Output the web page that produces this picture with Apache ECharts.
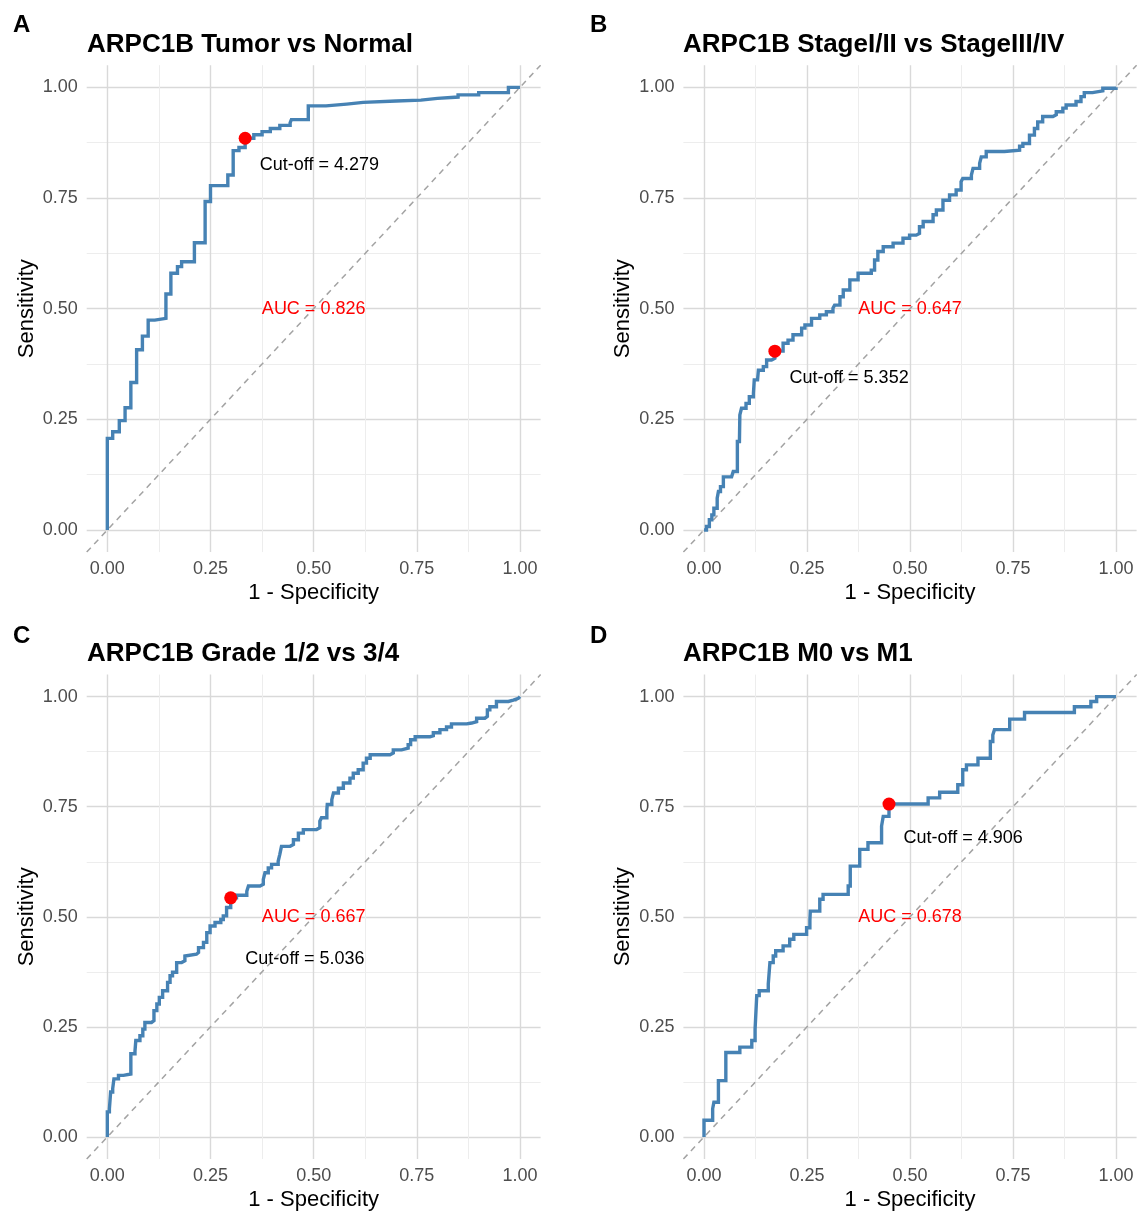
<!DOCTYPE html>
<html>
<head>
<meta charset="utf-8">
<script src="https://cdn.jsdelivr.net/npm/echarts@6/dist/echarts.min.js"></script>
<style>
html,body{margin:0;padding:0;background:#fff;}
#chart{width:1141px;height:1212px;}
</style>
</head>
<body>
<div id="chart"></div>
<script>
// ---------- data ----------
const majorTicks = [0, 0.25, 0.5, 0.75, 1];
const minorTicks = [0.125, 0.375, 0.625, 0.875];
const panelLetters = ['A', 'B', 'C', 'D'];
const panelTitles = ['ARPC1B Tumor vs Normal', 'ARPC1B StageI/II vs StageIII/IV', 'ARPC1B Grade 1/2 vs 3/4', 'ARPC1B M0 vs M1'];

const rocA_fpr = [0,0,0.013,0.029,0.043,0.057,0.071,0.085,0.099,0.115,0.142,0.154,0.170,0.180,0.211,0.237,0.250,0.292,0.305,0.319,0.334,0.355,0.375,0.395,0.418,0.443,0.446,0.487,0.530,0.580,0.620,0.700,0.760,0.800,0.850,0.900,0.972,0.972,1];
const rocA_tpr = [0,0.207,0.222,0.247,0.276,0.333,0.407,0.438,0.474,0.478,0.533,0.580,0.595,0.606,0.649,0.742,0.778,0.802,0.857,0.864,0.885,0.893,0.900,0.907,0.914,0.920,0.927,0.958,0.962,0.966,0.969,0.971,0.975,0.978,0.983,0.988,0.991,1,1];

const rocB_fpr = [0,0.006,0.013,0.019,0.024,0.032,0.035,0.040,0.047,0.067,0.071,0.081,0.081,0.086,0.087,0.091,0.102,0.110,0.120,0.122,0.130,0.132,0.144,0.152,0.164,0.172,0.192,0.204,0.216,0.237,0.245,0.261,0.281,0.297,0.313,0.317,0.330,0.338,0.354,0.374,0.406,0.414,0.422,0.435,0.459,0.483,0.499,0.515,0.523,0.532,0.556,0.564,0.580,0.596,0.612,0.624,0.628,0.649,0.653,0.669,0.673,0.685,0.729,0.766,0.774,0.790,0.802,0.810,0.822,0.847,0.855,0.871,0.879,0.903,0.915,0.923,0.943,0.968,1];
const rocB_tpr = [0,0.008,0.023,0.034,0.049,0.072,0.087,0.098,0.120,0.120,0.132,0.136,0.200,0.203,0.260,0.275,0.286,0.301,0.309,0.339,0.343,0.361,0.369,0.384,0.388,0.404,0.422,0.429,0.441,0.456,0.463,0.478,0.486,0.493,0.501,0.508,0.527,0.542,0.565,0.580,0.587,0.610,0.629,0.640,0.648,0.659,0.666,0.670,0.685,0.697,0.712,0.723,0.745,0.757,0.768,0.787,0.794,0.802,0.817,0.828,0.843,0.855,0.858,0.867,0.873,0.892,0.907,0.922,0.934,0.938,0.945,0.953,0.960,0.968,0.979,0.988,0.992,0.998,1];

const rocC_fpr = [0,0,0.005,0.008,0.013,0.016,0.027,0.039,0.057,0.067,0.069,0.079,0.086,0.091,0.107,0.113,0.120,0.126,0.134,0.146,0.152,0.158,0.168,0.180,0.188,0.192,0.216,0.221,0.233,0.241,0.249,0.261,0.275,0.281,0.289,0.299,0.313,0.338,0.342,0.370,0.378,0.382,0.390,0.398,0.414,0.418,0.422,0.443,0.451,0.463,0.475,0.507,0.515,0.519,0.532,0.533,0.544,0.548,0.560,0.572,0.588,0.596,0.608,0.620,0.628,0.637,0.685,0.693,0.713,0.729,0.735,0.746,0.782,0.790,0.806,0.822,0.834,0.871,0.883,0.895,0.915,0.921,0.927,0.943,0.972,0.984,0.996,1];
const rocC_tpr = [0,0.057,0.064,0.102,0.110,0.132,0.140,0.143,0.189,0.195,0.219,0.230,0.245,0.260,0.264,0.287,0.302,0.317,0.332,0.351,0.366,0.374,0.396,0.400,0.411,0.415,0.419,0.430,0.442,0.464,0.479,0.487,0.494,0.502,0.521,0.543,0.549,0.558,0.570,0.574,0.585,0.600,0.611,0.619,0.626,0.642,0.660,0.664,0.675,0.690,0.698,0.702,0.717,0.725,0.743,0.755,0.766,0.781,0.792,0.804,0.815,0.826,0.834,0.849,0.860,0.868,0.872,0.879,0.883,0.891,0.902,0.909,0.911,0.918,0.925,0.931,0.938,0.940,0.943,0.951,0.955,0.970,0.977,0.989,0.992,0.996,1,1];

const rocD_fpr = [0,0,0.021,0.024,0.035,0.053,0.087,0.116,0.124,0.128,0.134,0.156,0.160,0.168,0.174,0.192,0.208,0.218,0.249,0.257,0.258,0.281,0.289,0.350,0.355,0.378,0.398,0.431,0.435,0.449,0.544,0.572,0.616,0.628,0.637,0.665,0.695,0.701,0.705,0.742,0.778,0.899,0.939,0.953,1];
const rocD_tpr = [0,0.038,0.064,0.079,0.128,0.192,0.204,0.219,0.245,0.321,0.332,0.347,0.396,0.411,0.423,0.434,0.449,0.460,0.475,0.491,0.513,0.540,0.551,0.570,0.615,0.653,0.668,0.706,0.728,0.756,0.770,0.783,0.800,0.834,0.845,0.860,0.898,0.913,0.925,0.949,0.964,0.977,0.989,1,1];

const cutoffFpr = [0.334, 0.172, 0.299, 0.449];
const cutoffTpr = [0.885, 0.404, 0.543, 0.756];
const cutoffLabels = ['Cut-off = 4.279', 'Cut-off = 5.352', 'Cut-off = 5.036', 'Cut-off = 4.906'];
const cutoffLabelX = [0.514, 0.352, 0.479, 0.629];
const cutoffLabelY = [0.824, 0.343, 0.404, 0.680];
const aucLabels = ['AUC = 0.826', 'AUC = 0.647', 'AUC = 0.667', 'AUC = 0.678'];
const aucLabelX = [0.5, 0.5, 0.5, 0.5];
const aucLabelY = [0.5, 0.5, 0.5, 0.5];

const rocFpr = [rocA_fpr, rocB_fpr, rocC_fpr, rocD_fpr];
const rocTpr = [rocA_tpr, rocB_tpr, rocC_tpr, rocD_tpr];

// ---------- layout ----------
const FONT = 'Liberation Sans, Arial, Helvetica, sans-serif';
const panels = [
  {left: 86.7, top: 65.2, width: 453.9, height: 486.9, lx: 13, ly: 13, tx: 87, ty: 32},
  {left: 683.4, top: 65.2, width: 453.2, height: 486.9, lx: 590, ly: 13, tx: 683, ty: 32},
  {left: 86.7, top: 674.6, width: 453.9, height: 485.8, lx: 13, ly: 624, tx: 87, ty: 641},
  {left: 683.4, top: 674.6, width: 453.2, height: 485.8, lx: 590, ly: 624, tx: 683, ty: 641}
];

const grids = [], xAxes = [], yAxes = [], series = [], titles = [];

panels.forEach((p, i) => {
  grids.push({left: p.left, top: p.top, width: p.width, height: p.height, containLabel: false});
  titles.push({text: panelLetters[i], left: p.lx, top: p.ly, padding: 0,
    textStyle: {fontFamily: FONT, fontSize: 24, fontWeight: 'bold', color: '#000'}});
  titles.push({text: panelTitles[i], left: p.tx, top: p.ty, padding: 0,
    textStyle: {fontFamily: FONT, fontSize: 26, fontWeight: 'bold', color: '#000'}});

  const common = {type: 'value', min: -0.05, max: 1.05, gridIndex: i, axisLine: {show: false}};
  // major x
  xAxes.push(Object.assign({}, common, {
    position: 'bottom',
    name: '1 - Specificity', nameLocation: 'middle', nameGap: 30,
    nameTextStyle: {fontFamily: FONT, fontSize: 22, color: '#000'},
    axisTick: {show: false, customValues: majorTicks},
    axisLabel: {customValues: majorTicks, formatter: v => v.toFixed(2), fontFamily: FONT, fontSize: 18, color: '#4d4d4d', margin: 8},
    splitLine: {show: true, lineStyle: {color: '#d9d9d9', width: 1.4}}
  }));
  // minor x
  xAxes.push(Object.assign({}, common, {
    position: 'bottom',
    axisTick: {show: false, customValues: minorTicks},
    axisLabel: {show: false, customValues: minorTicks},
    splitLine: {show: true, lineStyle: {color: '#ededed', width: 1}}
  }));
  // major y
  yAxes.push(Object.assign({}, common, {
    position: 'left',
    name: 'Sensitivity', nameLocation: 'middle', nameGap: 49, nameRotate: 90,
    nameTextStyle: {fontFamily: FONT, fontSize: 22, color: '#000'},
    axisTick: {show: false, customValues: majorTicks},
    axisLabel: {customValues: majorTicks, formatter: v => v.toFixed(2), fontFamily: FONT, fontSize: 18, color: '#4d4d4d', margin: 9},
    splitLine: {show: true, lineStyle: {color: '#d9d9d9', width: 1.4}}
  }));
  // minor y
  yAxes.push(Object.assign({}, common, {
    position: 'left',
    axisTick: {show: false, customValues: minorTicks},
    axisLabel: {show: false, customValues: minorTicks},
    splitLine: {show: true, lineStyle: {color: '#ededed', width: 1}}
  }));

  const xi = 2 * i, yi = 2 * i;
  // diagonal reference y = x
  series.push({type: 'line', xAxisIndex: xi, yAxisIndex: yi, silent: true,
    data: [[-0.05, -0.05], [1.05, 1.05]], showSymbol: false, symbol: 'none',
    lineStyle: {color: '#a3a3a3', width: 1.5, type: [6, 5]}, z: 2});
  // ROC curve
  series.push({type: 'line', xAxisIndex: xi, yAxisIndex: yi, step: 'end', silent: true,
    data: rocFpr[i].map((x, k) => [x, rocTpr[i][k]]), showSymbol: false, symbol: 'none',
    lineStyle: {color: '#4682B4', width: 3.4, join: 'miter', cap: 'butt'}, z: 3});
  // cut-off point
  series.push({type: 'scatter', xAxisIndex: xi, yAxisIndex: yi, silent: true,
    data: [[cutoffFpr[i], cutoffTpr[i]]], symbolSize: 13,
    itemStyle: {color: '#ff0000', opacity: 1}, z: 5});
  // annotations
  series.push({type: 'scatter', xAxisIndex: xi, yAxisIndex: yi, silent: true, symbolSize: 0,
    itemStyle: {opacity: 1},
    data: [
      {value: [cutoffLabelX[i], cutoffLabelY[i]], label: {formatter: cutoffLabels[i], color: '#000000'}},
      {value: [aucLabelX[i], aucLabelY[i]], label: {formatter: aucLabels[i], color: '#ff0000'}}
    ],
    label: {show: true, position: 'inside', fontFamily: FONT, fontSize: 18, opacity: 1},
    z: 6});
});

const chart = echarts.init(document.getElementById('chart'), null, {renderer: 'canvas'});
chart.setOption({
  backgroundColor: '#ffffff',
  animation: false,
  title: titles,
  grid: grids,
  xAxis: xAxes,
  yAxis: yAxes,
  series: series
});
</script>
</body>
</html>
